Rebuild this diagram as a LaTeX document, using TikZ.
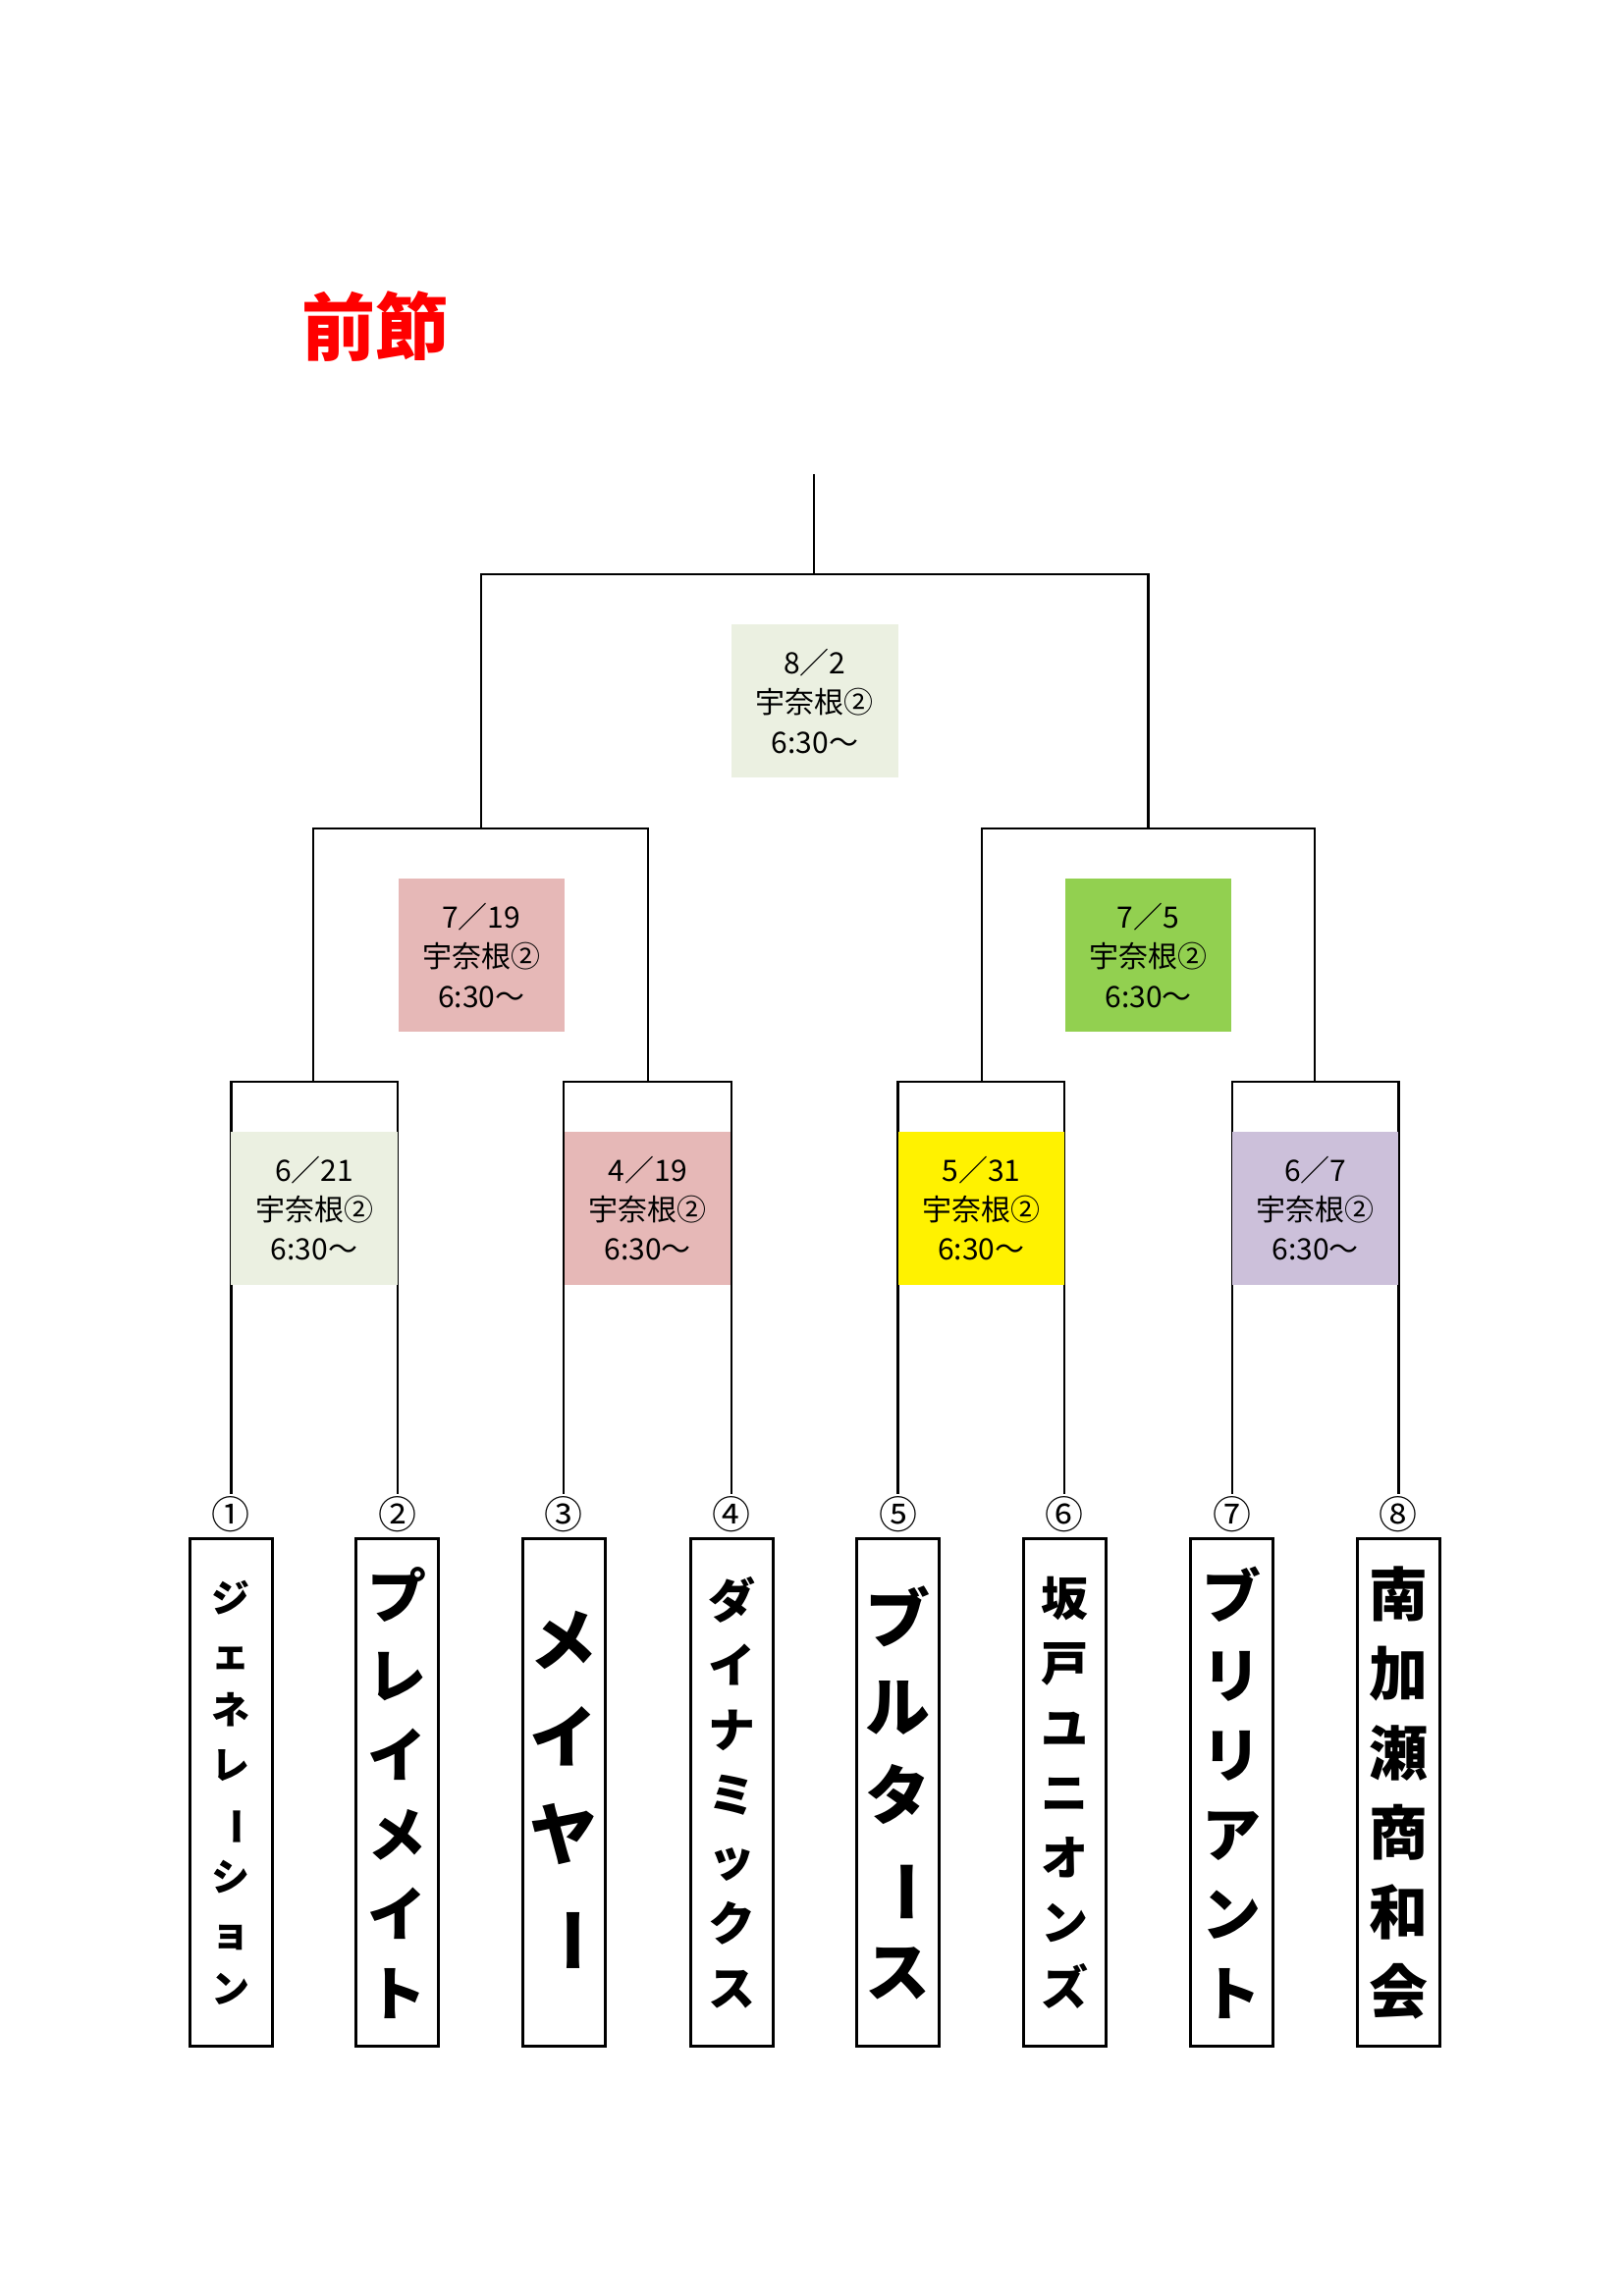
\documentclass[tikz,border=0pt]{standalone}
\usepackage{fontspec}
\usepackage{graphicx}
\setmainfont{Noto Sans CJK JP}
\newcommand{\vb}{\rotatebox[origin=c]{-90}{ー}}
\begin{document}
\begin{tikzpicture}[x=0.5pt,y=-0.5pt,line width=0.75pt,
  lab/.style={minimum width=56.5pt,minimum height=52pt,inner sep=0pt,align=center,font=\fontsize{10}{13.5}\selectfont},
  namebox/.style={draw,line width=1pt,minimum width=28pt,minimum height=172.5pt,inner sep=0pt},
  nm/.style={align=center,inner sep=0pt,font=\bfseries},
  num/.style={font=\fontsize{13}{13}\selectfont,inner sep=0pt}]
\useasboundingbox (0,0) rectangle (1103,1560);
\definecolor{lg}{HTML}{EBF0E1}\definecolor{pk}{HTML}{E6B8B7}
\definecolor{gr}{HTML}{92D050}\definecolor{lv}{HTML}{CCC0DA}
\node[red,font=\fontsize{25}{25}\selectfont\bfseries] (title) at (255,222) {前節};
% bracket lines
\coordinate (top) at (553,322);
\coordinate (f) at (553,390);
\draw (top) -- (f);
\draw (327,563) -- (327,390) -- (780,390) -- (780,563);
\draw (213,735) -- (213,563) -- (440,563) -- (440,735);
\draw (667,735) -- (667,563) -- (893,563) -- (893,735);
\foreach \a/\b in {157/270,383/497,610/723,837/950}{
  \draw (\a,1015) -- (\a,735) -- (\b,735) -- (\b,1015);}
% labels
\node[lab,fill=lg] (m7) at (553.5,476.5) {8／2\\宇奈根②\\6:30～};
\node[lab,fill=pk] (m5) at (327,649) {7／19\\宇奈根②\\6:30～};
\node[lab,fill=gr] (m6) at (780,649) {7／5\\宇奈根②\\6:30～};
\node[lab,fill=lg] (m1) at (213.5,821) {6／21\\宇奈根②\\6:30～};
\node[lab,fill=pk] (m2) at (440,821) {4／19\\宇奈根②\\6:30～};
\node[lab,fill=yellow] (m3) at (666.5,821) {5／31\\宇奈根②\\6:30～};
\node[lab,fill=lv] (m4) at (893.5,821) {6／7\\宇奈根②\\6:30～};
% numbers and name boxes
\foreach \x/\n [count=\i] in {157/①,270/②,383/③,497/④,610/⑤,723/⑥,837/⑦,950/⑧}{
  \node[num] (n\i) at (\x,1029) {\n};
  \node[namebox] (b\i) at (\x,1218) {};}
\node[nm,font=\bfseries\fontsize{13}{19}\selectfont] at (157,1218) {ジ\\ェ\\ネ\\レ\\\vb\\シ\\ョ\\ン};
\node[nm,font=\bfseries\fontsize{20}{27}\selectfont] at (270,1218) {プ\\レ\\イ\\メ\\イ\\ト};
\node[nm,font=\bfseries\fontsize{23}{33}\selectfont] at (383,1218) {メ\\イ\\ヤ\\\vb};
\node[nm,font=\bfseries\fontsize{16}{22}\selectfont] at (497,1218) {ダ\\イ\\ナ\\ミ\\ッ\\ク\\ス};
\node[nm,font=\bfseries\fontsize{22}{30}\selectfont] at (610,1218) {ブ\\ル\\タ\\\vb\\ス};
\node[nm,font=\bfseries\fontsize{16}{22}\selectfont] at (723,1218) {坂\\戸\\ユ\\ニ\\オ\\ン\\ズ};
\node[nm,font=\bfseries\fontsize{20}{27}\selectfont] at (837,1218) {ブ\\リ\\リ\\ア\\ン\\ト};
\node[nm,font=\bfseries\fontsize{20}{27}\selectfont] at (950,1218) {南\\加\\瀬\\商\\和\\会};
\end{tikzpicture}
\end{document}
